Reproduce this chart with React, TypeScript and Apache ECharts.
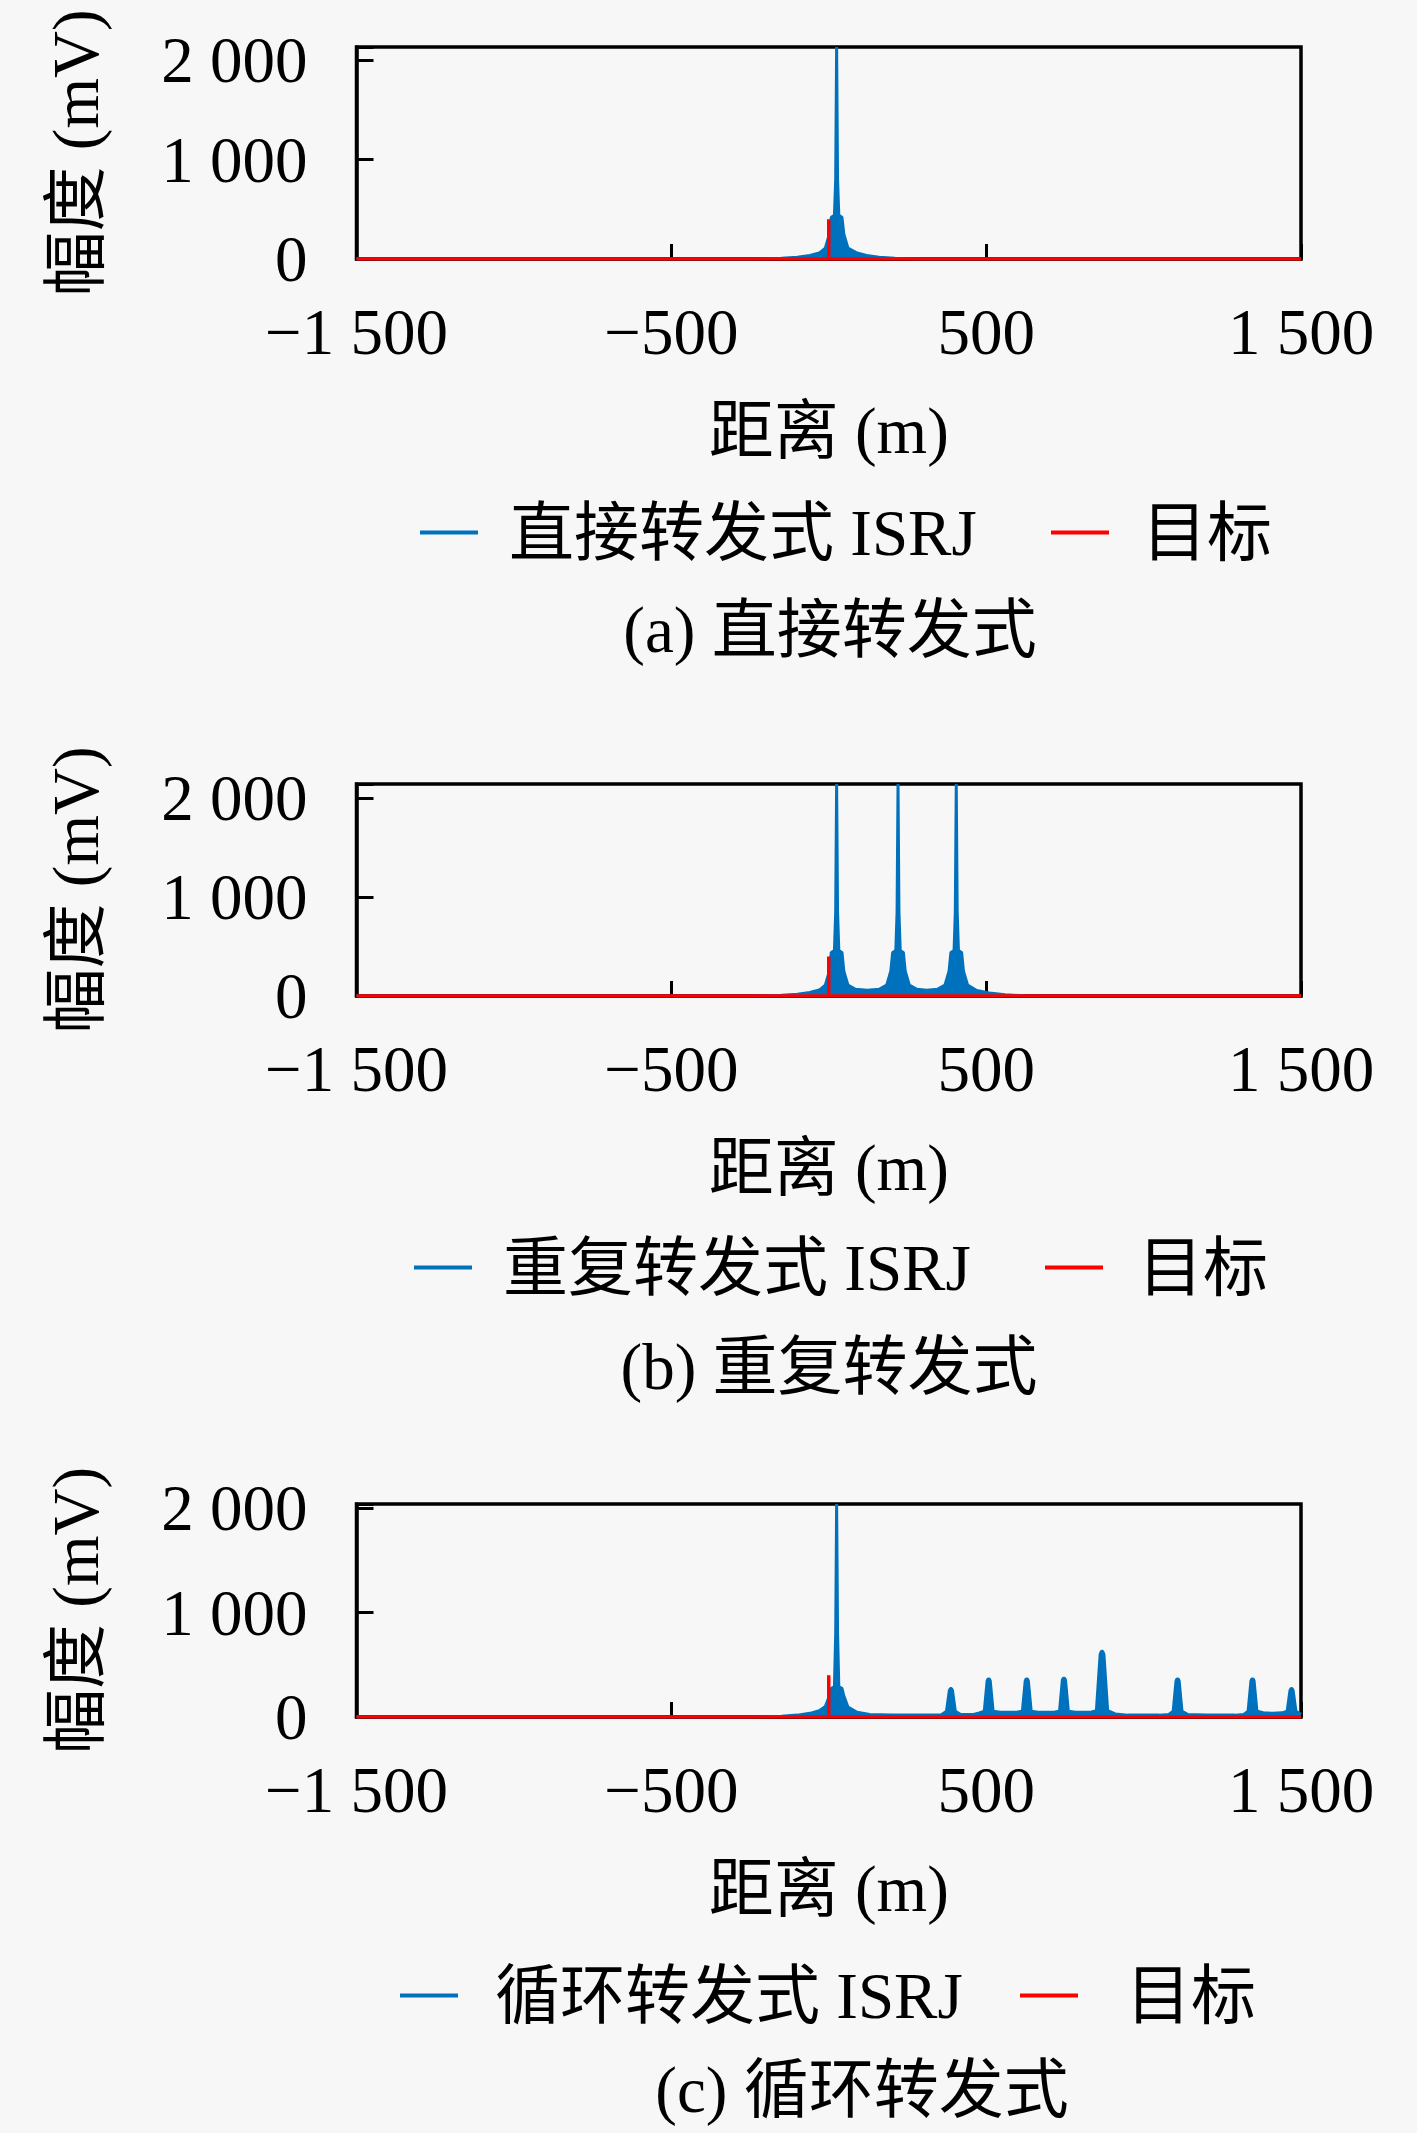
import React, { useEffect, useRef } from "react";
import * as echarts from "echarts";

// ---------- data ----------
const X_TICKS = [-1500, -500, 500, 1500];
const X_TICK_LABELS = ["−1 500", "−500", "500", "1 500"];
const Y_TICKS = [0, 1000, 2000];
const Y_TICK_LABELS = ["0", "1 000", "2 000"];
const Y_MAX = [2135, 2145, 2040];

const JAM_NAMES = ["直接转发式 ISRJ", "重复转发式 ISRJ", "循环转发式 ISRJ"];
const TARGET_NAME = "目标";
const CAPTIONS = ["(a) 直接转发式", "(b) 重复转发式", "(c) 循环转发式"];
const X_NAME = "距离 (m)";
const Y_NAME = "幅度 (mV)";

// (a) direct repeater ISRJ: [distance m, amplitude mV]
const JAM_A: [number, number][] = [
  [-1500, 0], [-250, 0], [-150, 8], [-100, 18], [-60, 35], [-30, 60], [-11, 110],
  [2, 250], [8, 420], [18, 440], [22, 800], [25, 2135], [28, 800], [32, 440],
  [42, 420], [48, 250], [61, 110], [90, 60], [120, 35], [160, 18], [210, 8],
  [300, 0], [1500, 0],
];

// (b) repeated ISRJ
const JAM_B: [number, number][] = [
  [-1500, 0], [-250, 0], [-150, 8], [-100, 18], [-60, 35], [-30, 60], [-11, 110],
  [2, 250], [8, 440], [18, 460], [22, 850], [25, 2145], [28, 850], [32, 460],
  [42, 440], [48, 250], [61, 110], [85, 68], [122, 58], [160, 68], [184, 110],
  [197, 250], [203, 440], [213, 460], [217, 850], [220, 2145], [223, 850], [227, 460],
  [237, 440], [243, 250], [256, 110], [280, 68], [312, 58], [345, 68], [369, 110],
  [382, 250], [388, 440], [398, 460], [402, 850], [405, 2145], [408, 850], [412, 460],
  [422, 440], [428, 250], [441, 110], [470, 55], [510, 30], [560, 12], [620, 3],
  [700, 0], [1500, 0],
];

// (c) cyclic ISRJ
const JAM_C: [number, number][] = [
  [-1500, 0], [-250, 0], [-150, 8], [-100, 18], [-60, 35], [-30, 60], [-11, 100],
  [2, 200], [8, 275], [18, 290], [22, 800], [25, 2040], [28, 800], [32, 290],
  [42, 275], [48, 200], [61, 95], [90, 45], [130, 25], [200, 18], [300, 18],
  [358, 22], [374, 55], [383, 255], [386, 272], [390, 272], [393, 255], [402, 55], [418, 25],
  [460, 25], [478, 40], [494, 55], [503, 345], [506, 365], [510, 365], [513, 345], [522, 55],
  [545, 45], [568, 45], [600, 48], [615, 55], [624, 345], [627, 365], [631, 365], [634, 345],
  [643, 55], [665, 45], [688, 45], [718, 48], [733, 55], [742, 355], [745, 372], [749, 372],
  [752, 355], [761, 55], [784, 45], [807, 45], [835, 48], [850, 60], [862, 600], [866, 630],
  [870, 630], [874, 600], [886, 60], [910, 30], [950, 18], [1050, 18], [1080, 25], [1094, 55],
  [1103, 345], [1106, 365], [1110, 365], [1113, 345], [1122, 55], [1140, 25], [1200, 18],
  [1290, 18], [1318, 25], [1332, 55], [1341, 345], [1344, 365], [1348, 365], [1351, 345],
  [1360, 55], [1380, 40], [1410, 35], [1440, 40], [1456, 55], [1465, 255], [1468, 272],
  [1472, 272], [1475, 255], [1484, 55], [1500, 25],
];

const JAM_DATA = [JAM_A, JAM_B, JAM_C];

// target echo (same in all three panels)
const TARGET: [number, number][] = [
  [-1500, 0], [0, 0], [0, 400], [0, 0], [1500, 0],
];

// ---------- layout / style ----------
const FONT = "'Liberation Serif', 'Noto Sans CJK SC', serif";
const FS = 65;
const BLUE = "#0072BD";
const RED = "#FF0000";
const GRID_LEFT = 356.5;
const GRID_WIDTH = 944.5;

const PANELS = [
  { top: 47, height: 212, legendTop: 500, leg1Left: 420, leg1Pad: 26, leg2Left: 1051, leg2Pad: 28, capX: 830, capY: 630 },
  { top: 784, height: 212, legendTop: 1235, leg1Left: 414, leg1Pad: 26, leg2Left: 1045, leg2Pad: 30, capX: 829, capY: 1367 },
  { top: 1504, height: 213, legendTop: 1963, leg1Left: 400, leg1Pad: 32, leg2Left: 1020, leg2Pad: 43, capX: 862, capY: 2090 },
];

function buildOption() {
  const grid: any[] = [];
  const xAxis: any[] = [];
  const yAxis: any[] = [];
  const series: any[] = [];
  const legend: any[] = [];
  const graphic: any[] = [];

  PANELS.forEach((p, i) => {
    grid.push({
      left: GRID_LEFT,
      top: p.top,
      width: GRID_WIDTH,
      height: p.height,
      show: true,
      borderColor: "#000",
      borderWidth: 3.5,
      backgroundColor: "transparent",
      containLabel: false,
      outerBoundsMode: "none",
    });
    xAxis.push({
      type: "value",
      gridIndex: i,
      min: -1500,
      max: 1500,
      interval: 1000,
      name: X_NAME,
      nameLocation: "middle",
      nameGap: 139,
      nameTextStyle: { fontFamily: FONT, fontSize: FS, color: "#000" },
      axisLine: { show: true, onZero: false, lineStyle: { color: "#000", width: 3.5 } },
      axisTick: { show: true, inside: true, length: 15, lineStyle: { color: "#000", width: 3 } },
      axisLabel: {
        margin: 40,
        fontFamily: FONT,
        fontSize: FS,
        color: "#000",
        formatter: (v: number) => {
          const k = X_TICKS.indexOf(v);
          return k >= 0 ? X_TICK_LABELS[k] : "";
        },
      },
      splitLine: { show: false },
    });
    yAxis.push({
      type: "value",
      gridIndex: i,
      min: 0,
      max: Y_MAX[i],
      interval: 1000,
      name: Y_NAME,
      nameLocation: "middle",
      nameGap: 248,
      nameTextStyle: { fontFamily: FONT, fontSize: FS, color: "#000" },
      axisLine: { show: true, onZero: false, lineStyle: { color: "#000", width: 3.5 } },
      axisTick: { show: true, inside: true, length: 17, lineStyle: { color: "#000", width: 3 } },
      axisLabel: {
        margin: 49,
        fontFamily: FONT,
        fontSize: FS,
        color: "#000",
        formatter: (v: number) => {
          const k = Y_TICKS.indexOf(v);
          return k >= 0 ? Y_TICK_LABELS[k] : "";
        },
      },
      splitLine: { show: false },
    });
    series.push({
      type: "line",
      name: JAM_NAMES[i],
      xAxisIndex: i,
      yAxisIndex: i,
      data: JAM_DATA[i],
      color: BLUE,
      showSymbol: false,
      symbol: "none",
      lineStyle: { color: BLUE, width: 3 },
      areaStyle: { color: BLUE, opacity: 1 },
      z: 2,
    });
    series.push({
      type: "line",
      name: TARGET_NAME,
      xAxisIndex: i,
      yAxisIndex: i,
      data: TARGET,
      color: RED,
      showSymbol: false,
      symbol: "none",
      lineStyle: { color: RED, width: 3.5 },
      z: 3,
    });
    const legBase = {
      show: true,
      top: p.legendTop,
      padding: 0,
      icon: "rect",
      itemWidth: 58,
      itemHeight: 4,
      selectedMode: false,
      orient: "horizontal",
    };
    legend.push({
      ...legBase,
      left: p.leg1Left,
      data: [{ name: JAM_NAMES[i], itemStyle: { color: BLUE } }],
      textStyle: { fontFamily: FONT, fontSize: FS, color: "#000", padding: [0, 0, 0, p.leg1Pad] },
    });
    legend.push({
      ...legBase,
      left: p.leg2Left,
      data: [{ name: TARGET_NAME, itemStyle: { color: RED } }],
      textStyle: { fontFamily: FONT, fontSize: FS, color: "#000", padding: [0, 0, 0, p.leg2Pad] },
    });
    graphic.push({
      type: "text",
      x: p.capX,
      y: p.capY,
      style: {
        text: CAPTIONS[i],
        fontFamily: FONT,
        fontSize: FS,
        fill: "#000",
        textAlign: "center",
        textVerticalAlign: "middle",
      },
    });
  });

  return {
    animation: false,
    backgroundColor: "#f7f7f7",
    grid,
    xAxis,
    yAxis,
    series,
    legend,
    graphic,
  };
}

export default function App() {
  const ref = useRef<HTMLDivElement>(null);
  useEffect(() => {
    if (!ref.current) return;
    const chart = echarts.init(ref.current, undefined, { renderer: "svg" });
    chart.setOption(buildOption() as any);
    return () => chart.dispose();
  }, []);
  return (
    <div
      ref={ref}
      style={{
        position: "absolute",
        left: 0,
        top: 0,
        width: 1417,
        height: 2133,
        background: "#f7f7f7",
      }}
    />
  );
}
